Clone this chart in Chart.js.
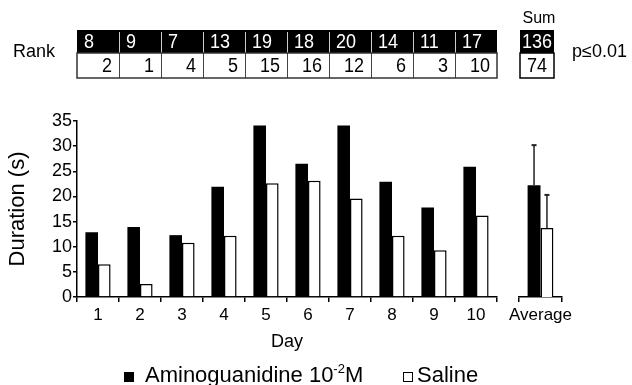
<!DOCTYPE html>
<html>
<head>
<meta charset="utf-8">
<script src="https://cdn.jsdelivr.net/npm/chart.js@4"></script>
<style>
  body { margin: 0; background: #fff; }
  #wrap { position: relative; width: 632px; height: 385px; }
  canvas { position: absolute; left: 0; top: 0; }
</style>
</head>
<body>
<div id="wrap">
  <canvas id="days" width="632" height="385"></canvas>
  <canvas id="avg" width="632" height="385"></canvas>
</div>
<script>
const days = ['1', '2', '3', '4', '5', '6', '7', '8', '9', '10'];
const aminoguanidine = [12.9, 13.9, 12.3, 21.9, 34.1, 26.5, 34.1, 22.9, 17.8, 25.9];
const saline = [6.5, 2.6, 10.8, 12.2, 22.6, 23.1, 19.6, 12.2, 9.3, 16.2];

const averageLabel = ['Average'];
const averageAmino = [22.2];
const averageSaline = [13.7];
const errorAmino = [8.0];
const errorSaline = [6.6];

const rankAmino = [8, 9, 7, 13, 19, 18, 20, 14, 11, 17];
const rankSaline = [2, 1, 4, 5, 15, 16, 12, 6, 3, 10];
const rankSum = [136, 74];

const yMin = 0, yMax = 35, yStep = 5;

const FONT = '"Liberation Sans", Arial, sans-serif';
Chart.defaults.font.family = FONT;
Chart.defaults.color = '#000';

// slightly tall digits like the scanned table
function tallText(ctx, s, x, y) {
    ctx.save();
    ctx.translate(x, y);
    ctx.scale(1, 1.12);
    ctx.fillText(s, 0, 0);
    ctx.restore();
}

// top rank table, legend and labels drawn on the day chart
const rankTable = {
    id: 'rankTable',
    afterDraw(chart) {
        const ctx = chart.ctx;
        const x = chart.scales.x;
        const w = (x.right - x.left) / days.length;
        const top = 30, mid = 53, bot = 78;
        ctx.save();
        ctx.font = '18px ' + FONT;
        ctx.textBaseline = 'middle';

        ctx.fillStyle = '#000';
        ctx.fillRect(x.left, top, x.right - x.left, mid - top);
        rankAmino.forEach((r, i) => {
            const l = x.getPixelForValue(i) - w / 2;
            ctx.fillStyle = '#fff';
            ctx.textAlign = 'left';
            tallText(ctx, String(r), l + 7, (top + mid) / 2 + 1);
            ctx.fillStyle = '#000';
            ctx.textAlign = 'right';
            tallText(ctx, String(rankSaline[i]), l + w - 7, (mid + bot) / 2 + 1);
            if (i > 0) {
                ctx.strokeStyle = '#ccc';
                ctx.lineWidth = 1;
                ctx.beginPath();
                ctx.moveTo(Math.round(l) + 0.5, top + 2);
                ctx.lineTo(Math.round(l) + 0.5, mid);
                ctx.stroke();
                ctx.strokeStyle = '#444';
                ctx.beginPath();
                ctx.moveTo(Math.round(l) + 0.5, mid);
                ctx.lineTo(Math.round(l) + 0.5, bot);
                ctx.stroke();
            }
        });
        ctx.strokeStyle = '#333';
        ctx.lineWidth = 1.5;
        ctx.strokeRect(x.left, mid, x.right - x.left, bot - mid);

        // sum box
        const sl = 520, sr = 554;
        ctx.fillStyle = '#000';
        ctx.fillRect(sl, top, sr - sl, mid - top);
        ctx.strokeStyle = '#000';
        ctx.strokeRect(sl, mid, sr - sl, bot - mid);
        ctx.textAlign = 'center';
        ctx.fillStyle = '#fff';
        tallText(ctx, String(rankSum[0]), (sl + sr) / 2, (top + mid) / 2 + 1);
        ctx.fillStyle = '#000';
        tallText(ctx, String(rankSum[1]), (sl + sr) / 2, (mid + bot) / 2 + 1);
        ctx.font = '16px ' + FONT;
        ctx.fillText('Sum', (sl + sr) / 2 + 2, 19);

        ctx.textAlign = 'left';
        ctx.font = '18px ' + FONT;
        ctx.fillText('Rank', 13, 52);
        ctx.fillText('p\u22640.01', 572, 52);

        // legend
        const base = 382;
        ctx.textBaseline = 'alphabetic';
        ctx.fillRect(124, base - 10, 10, 10);
        ctx.font = '22px ' + FONT;
        let tx = 145;
        const t1 = 'Aminoguanidine 10';
        ctx.fillText(t1, tx, base);
        tx += ctx.measureText(t1).width;
        ctx.font = '13px ' + FONT;
        ctx.fillText('-2', tx, base - 9);
        tx += ctx.measureText('-2').width;
        ctx.font = '22px ' + FONT;
        ctx.fillText('M', tx, base);
        ctx.lineWidth = 1;
        ctx.strokeStyle = '#000';
        ctx.strokeRect(403.5, base - 9.5, 9, 9);
        ctx.fillText('Saline', 417, base);
        ctx.restore();
    }
};

const errorBars = {
    id: 'errorBars',
    afterDatasetsDraw(chart) {
        const ctx = chart.ctx;
        const y = chart.scales.y;
        [[averageAmino, errorAmino], [averageSaline, errorSaline]].forEach(([vals, errs], i) => {
            chart.getDatasetMeta(i).data.forEach((bar, j) => {
                const top = y.getPixelForValue(vals[j] + errs[j]);
                ctx.save();
                ctx.strokeStyle = '#222';
                ctx.lineWidth = 1.5;
                ctx.beginPath();
                ctx.moveTo(bar.x, bar.y);
                ctx.lineTo(bar.x, top);
                ctx.stroke();
                ctx.lineWidth = 2;
                ctx.beginPath();
                ctx.moveTo(bar.x - 2.5, top);
                ctx.lineTo(bar.x + 2.5, top);
                ctx.stroke();
                ctx.restore();
            });
        });
    }
};

function xAxis(title) {
    return {
        grid: { display: true, drawOnChartArea: false, drawTicks: true, tickLength: 5, color: '#000', lineWidth: 1.5, offset: true },
        border: { color: '#000', width: 1.5 },
        ticks: { color: '#000', font: { size: 17 }, padding: 3, maxRotation: 0, autoSkip: false },
        title: { display: !!title, text: title, color: '#000', font: { size: 18 }, padding: { top: 0, bottom: 32 } },
        afterFit: (s) => { s.height = 88; }
    };
}

const blackBar = { backgroundColor: '#000', borderWidth: 0, categoryPercentage: 0.6, barPercentage: 1 };
const whiteBar = { backgroundColor: '#fff', borderColor: '#000', borderWidth: 1.5, categoryPercentage: 0.6, barPercentage: 1 };

new Chart(document.getElementById('days'), {
    type: 'bar',
    data: {
        labels: days,
        datasets: [
            Object.assign({ label: 'Aminoguanidine 10-2M', data: aminoguanidine }, blackBar),
            Object.assign({ label: 'Saline', data: saline }, whiteBar)
        ]
    },
    options: {
        responsive: false,
        animation: false,
        layout: { padding: { left: 0, top: 121, right: 135, bottom: 0 } },
        plugins: { legend: { display: false }, tooltip: { enabled: false } },
        scales: {
            x: xAxis('Day'),
            y: {
                min: yMin,
                max: yMax,
                grid: { drawOnChartArea: false, tickLength: 4, color: '#000', lineWidth: 1.5 },
                border: { color: '#000', width: 1.5 },
                ticks: { stepSize: yStep, color: '#000', font: { size: 18 }, padding: 1 },
                title: { display: true, text: 'Duration (s)', color: '#000', font: { size: 22 }, padding: { top: 5, bottom: 0 } },
                afterFit: (s) => { s.width = 77; }
            }
        }
    },
    plugins: [rankTable]
});

new Chart(document.getElementById('avg'), {
    type: 'bar',
    data: {
        labels: averageLabel,
        datasets: [
            Object.assign({ label: 'Aminoguanidine 10-2M', data: averageAmino }, blackBar),
            Object.assign({ label: 'Saline', data: averageSaline }, whiteBar)
        ]
    },
    options: {
        responsive: false,
        animation: false,
        layout: { padding: { left: 519, top: 121, right: 70, bottom: 0 } },
        plugins: { legend: { display: false }, tooltip: { enabled: false } },
        scales: {
            x: xAxis(''),
            y: { display: false, min: yMin, max: yMax }
        }
    },
    plugins: [errorBars]
});
</script>
</body>
</html>
